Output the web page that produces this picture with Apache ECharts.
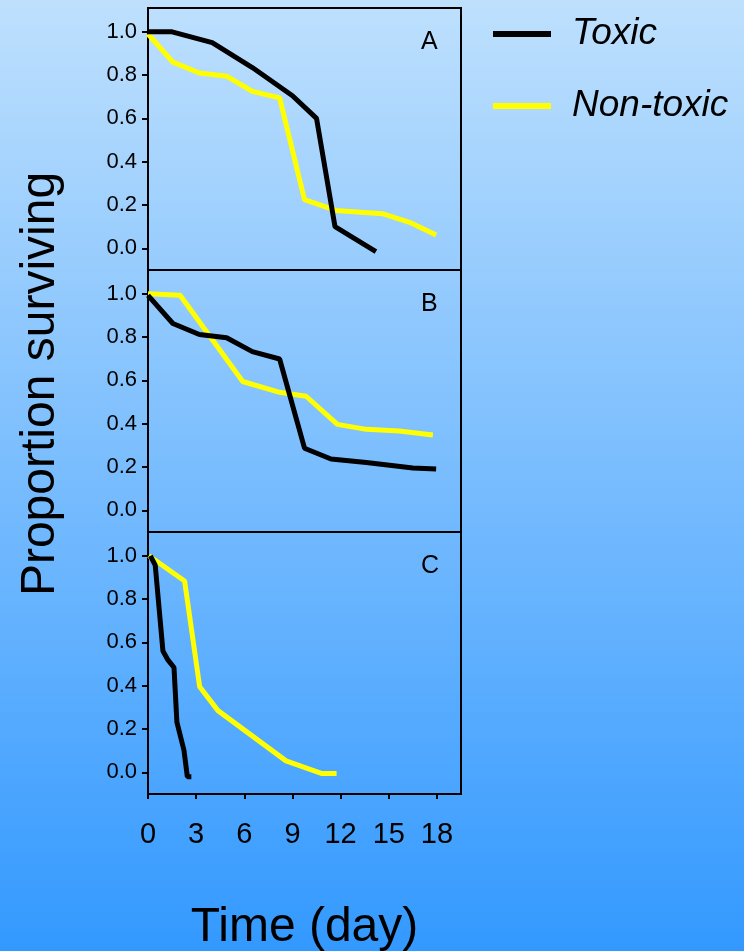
<!DOCTYPE html>
<html>
<head>
<meta charset="utf-8">
<script src="https://cdn.jsdelivr.net/npm/echarts@6/dist/echarts.min.js"></script>
<style>
  html, body { margin: 0; padding: 0; }
  #chart { width: 744px; height: 951px; }
</style>
</head>
<body>
<div id="chart"></div>
<script>
// survival data: [day, proportion]
var toxicA = [[0, 1.0], [1.5, 1.0], [4.0, 0.95], [6.5, 0.835], [9.0, 0.705], [10.5, 0.60], [11.65, 0.10], [14.2, -0.015]];
var nonToxicA = [[0, 0.99], [1.55, 0.86], [3.2, 0.81], [4.9, 0.795], [6.5, 0.725], [8.2, 0.695], [9.75, 0.225], [11.7, 0.175], [14.6, 0.16], [16.3, 0.12], [17.95, 0.062]];
var toxicB = [[0, 0.993], [1.55, 0.863], [3.2, 0.812], [4.9, 0.797], [6.5, 0.733], [8.2, 0.699], [9.75, 0.287], [11.4, 0.237], [13.6, 0.221], [16.5, 0.196], [17.95, 0.191]];
var nonToxicB = [[0, 1.0], [2.0, 0.993], [5.9, 0.595], [8.2, 0.545], [9.85, 0.527], [11.8, 0.397], [13.6, 0.374], [15.65, 0.366], [17.75, 0.348]];
var toxicC = [[0.15, 1.0], [0.45, 0.957], [0.93, 0.56], [1.25, 0.518], [1.62, 0.484], [1.8, 0.232], [2.24, 0.102], [2.45, -0.02], [2.7, -0.02]];
var nonToxicC = [[0.05, 1.0], [2.28, 0.884], [3.22, 0.395], [4.36, 0.285], [8.6, 0.053], [10.8, -0.005], [11.75, -0.005]];

var xTicks = [0, 3, 6, 9, 12, 15, 18];
var yTicks = [0, 0.2, 0.4, 0.6, 0.8, 1.0];
var panelLabels = ['A', 'B', 'C'];
var seriesNames = ['Toxic', 'Non-toxic'];

var FONT = '"Liberation Sans", Arial, sans-serif';
var chart = echarts.init(document.getElementById('chart'));

var panelTops = [8, 270, 532];
var grids = [], xAxes = [], yAxes = [], titles = [];
panelTops.forEach(function (top, i) {
    grids.push({
        left: 148, width: 313, top: top, height: 262,
        outerBoundsMode: 'none', containLabel: false,
        show: true, borderColor: '#000', borderWidth: 2,
        backgroundColor: 'transparent'
    });
    var last = i === panelTops.length - 1;
    xAxes.push({
        type: 'value', gridIndex: i, min: 0, max: 19.5,
        splitLine: { show: false },
        axisLine: { show: last, onZero: false, lineStyle: { color: '#000', width: 2 } },
        axisTick: { show: last, length: 5, customValues: xTicks, lineStyle: { color: '#000', width: 2 } },
        axisLabel: { show: last, customValues: xTicks, fontSize: 29, color: '#000', fontFamily: FONT, margin: 26 },
        name: last ? 'Time (day)' : '',
        nameLocation: 'middle', nameGap: 110,
        nameTextStyle: { fontSize: 48, color: '#000', fontFamily: FONT }
    });
    yAxes.push({
        type: 'value', gridIndex: i, min: -0.1, max: 1.11,
        splitLine: { show: false },
        axisLine: { show: true, onZero: false, lineStyle: { color: '#000', width: 2 } },
        axisTick: { show: true, length: 6, customValues: yTicks, lineStyle: { color: '#000', width: 2 } },
        axisLabel: {
            customValues: yTicks, fontSize: 22, color: '#000', fontFamily: FONT, margin: 11,
            formatter: function (v) { return v.toFixed(1); }
        }
    });
    titles.push({
        text: panelLabels[i], left: 416, top: top + 17,
        textStyle: { fontSize: 25, fontWeight: 'normal', color: '#000', fontFamily: FONT }
    });
});

var panelData = [[toxicA, nonToxicA], [toxicB, nonToxicB], [toxicC, nonToxicC]];
var colors = ['#000000', '#ffff00'];
var series = [];
panelData.forEach(function (pair, i) {
    // non-toxic first so the black line sits on top
    [1, 0].forEach(function (k) {
        series.push({
            name: seriesNames[k], type: 'line', xAxisIndex: i, yAxisIndex: i,
            data: pair[k], showSymbol: false, symbol: 'none', silent: true,
            itemStyle: { color: colors[k] },
            lineStyle: { color: colors[k], width: 5 },
            z: k === 0 ? 3 : 2
        });
    });
});

var option = {
    animation: false,
    backgroundColor: {
        type: 'linear', x: 0, y: 0, x2: 0, y2: 1,
        colorStops: [{ offset: 0, color: '#bee0fd' }, { offset: 1, color: '#3399ff' }]
    },
    title: titles,
    legend: {
        orient: 'vertical', left: 493, top: 7, padding: 0,
        data: seriesNames, icon: 'rect',
        itemWidth: 58, itemHeight: 6, itemGap: 18,
        textStyle: { fontSize: 37, fontStyle: 'italic', color: '#000', fontFamily: FONT, lineHeight: 40, padding: [14, 0, 0, 16] }
    },
    graphic: [{
        type: 'text', x: 41, y: 384, rotation: Math.PI / 2,
        style: { text: 'Proportion surviving', fontSize: 48, fill: '#000', fontFamily: FONT, align: 'center', verticalAlign: 'middle' }
    }],
    grid: grids,
    xAxis: xAxes,
    yAxis: yAxes,
    series: series
};
chart.setOption(option);
</script>
</body>
</html>
